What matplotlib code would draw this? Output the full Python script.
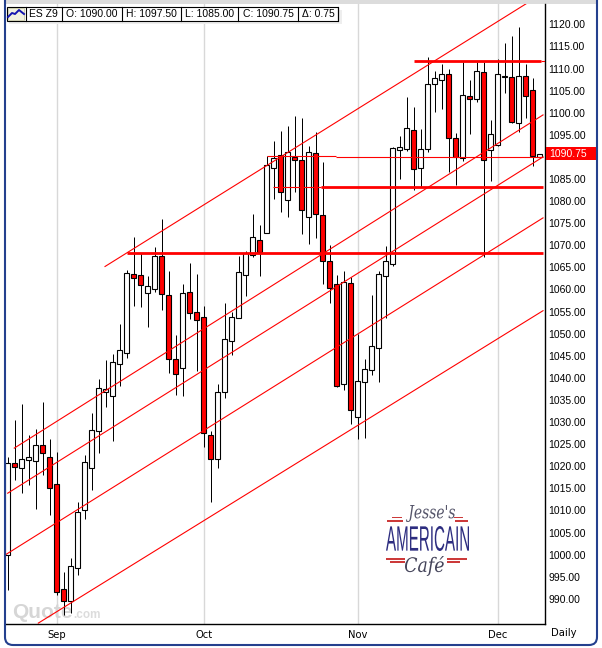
import matplotlib
matplotlib.use('Agg')
import matplotlib.pyplot as plt
from matplotlib.patches import Rectangle, FancyBboxPatch, PathPatch
from matplotlib.textpath import TextPath
from matplotlib.font_manager import FontProperties
from matplotlib.transforms import Affine2D

plt.rcParams['font.family'] = ['Liberation Sans', 'DejaVu Sans']

# daily bars
opens = [999.9, 1020.7, 1019.6, 1021.4, 1021.1, 1024.7, 1022.0, 1015.9, 992.2, 989.4,
         996.9, 1010.0, 1019.5, 1027.9, 1036.9, 1035.8, 1043.1, 1045.6, 1063.4, 1063.2,
         1059.1, 1060.0, 1067.5, 1058.7, 1044.2, 1042.2, 1059.4, 1054.8, 1053.7, 1027.0,
         1021.6, 1036.7, 1048.3, 1053.5, 1063.2, 1067.7, 1071.1, 1072.7, 1087.4, 1090.5,
         1080.2, 1089.9, 1089.2, 1076.5, 1090.8, 1076.8, 1066.4, 1061.2, 1038.5, 1061.4,
         1031.1, 1039.1, 1041.7, 1046.7, 1063.1, 1065.7, 1091.5, 1091.7, 1096.2, 1087.4,
         1091.9, 1106.4, 1107.5, 1108.7, 1094.2, 1089.7, 1103.7, 1103.2, 1109.1, 1091.5,
         1092.7, 1108.4, 1108.0, 1097.7, 1108.2, 1105.1, 1090.0]
highs = [1022.0, 1030.5, 1034.1, 1027.1, 1028.4, 1034.5, 1026.1, 1023.2, 996.0, 999.3,
         1012.0, 1022.5, 1032.0, 1039.7, 1044.0, 1045.4, 1052.2, 1064.3, 1071.9, 1068.2,
         1063.1, 1069.7, 1076.0, 1064.2, 1049.7, 1061.2, 1065.9, 1063.5, 1056.3, 1028.0,
         1038.6, 1057.0, 1055.0, 1067.6, 1068.6, 1077.1, 1074.6, 1090.1, 1093.6, 1095.9,
         1097.0, 1099.3, 1098.7, 1092.5, 1095.6, 1088.8, 1070.1, 1063.3, 1064.2, 1062.9,
         1049.9, 1044.3, 1058.8, 1064.2, 1069.8, 1092.3, 1094.7, 1103.5, 1101.2, 1096.3,
         1112.5, 1109.4, 1111.0, 1109.8, 1095.3, 1111.5, 1107.4, 1111.5, 1111.5, 1098.3,
         1112.1, 1115.8, 1117.3, 1119.5, 1111.0, 1107.8, 1090.75]
lows = [992.0, 1016.9, 1014.0, 1015.8, 1010.3, 1018.0, 1009.0, 990.9, 986.4, 986.9,
        995.4, 1008.1, 1014.6, 1023.1, 1033.5, 1025.6, 1038.2, 1044.6, 1056.3, 1056.1,
        1051.6, 1059.5, 1055.4, 1041.0, 1036.1, 1035.8, 1053.3, 1041.6, 1024.4, 1011.9,
        1019.5, 1035.5, 1045.2, 1053.5, 1058.6, 1067.3, 1063.1, 1072.7, 1080.5, 1077.6,
        1076.5, 1082.1, 1072.6, 1070.4, 1071.7, 1061.3, 1057.0, 1038.0, 1037.3, 1029.5,
        1026.1, 1026.5, 1040.6, 1039.1, 1053.5, 1065.2, 1085.1, 1091.4, 1082.5, 1083.3,
        1091.2, 1100.2, 1100.8, 1086.5, 1083.6, 1089.1, 1095.2, 1102.5, 1067.3, 1084.6,
        1092.5, 1104.5, 1097.7, 1095.6, 1098.9, 1088.0, 1090.0]
closes = [1020.7, 1019.8, 1021.6, 1022.2, 1024.7, 1022.9, 1015.0, 991.6, 989.4, 997.4,
          1009.6, 1020.9, 1028.1, 1037.6, 1037.4, 1043.7, 1046.2, 1063.7, 1062.7, 1060.9,
          1060.7, 1067.6, 1058.9, 1044.2, 1040.8, 1059.1, 1054.6, 1053.0, 1027.5, 1021.6,
          1036.7, 1048.7, 1053.7, 1063.9, 1068.2, 1071.8, 1068.5, 1088.2, 1089.8, 1082.0,
          1091.2, 1089.4, 1077.9, 1091.0, 1077.0, 1066.4, 1060.4, 1038.2, 1061.6, 1032.8,
          1039.2, 1041.9, 1047.1, 1063.4, 1066.4, 1092.0, 1092.2, 1096.5, 1087.2, 1091.7,
          1106.6, 1107.8, 1108.7, 1094.2, 1090.0, 1103.9, 1103.0, 1109.4, 1089.4, 1095.1,
          1108.7, 1108.0, 1098.0, 1108.2, 1103.7, 1090.2, 1090.75]

# channel lines: bar index and price at each end
channel_x = [(13.9, 74.2), (0.94, 76.47), (0.0, 76.47), (-0.39, 76.47), (4.37, 76.47)]
channel_y = [(1065.2, 1124.8), (1024.1, 1099.5), (1013.9, 1090.0), (999.9, 1076.2), (984.5, 1055.2)]

# support / resistance levels
thick_x = [(58.0, 76.2), (44.7, 76.5), (17.0, 76.5)]
thick_y = [1111.6, 1083.3, 1068.3]
thin_x = [(37.1, 46.9), (46.9, 76.5), (37.9, 44.7), (76.2, 76.7)]
thin_y = [1090.2, 1090.0, 1083.3, 1111.6]

# 1090 is hidden behind the last price flag in the original
price_ticks = [p for p in range(990, 1125, 5) if p != 1090]
month_pos = [7, 28, 50, 70]
month_names = ['Sep', 'Oct', 'Nov', 'Dec']
last_price = 1090.75

header_text = ['ES Z9', 'O: 1090.00', 'H: 1097.50', 'L: 1085.00', 'C: 1090.75', 'Δ: 0.75']
header_edges = [25.5, 61.5, 121.5, 180.5, 238, 298, 338]

W, H = 602, 648
fig = plt.figure(figsize=(W / 100, H / 100), dpi=100, facecolor='white')

# pixel overlay for the window frame, header and logo
bg = fig.add_axes([0, 0, 1, 1], zorder=0)
bg.set_xlim(0, W)
bg.set_ylim(H, 0)
bg.axis('off')
fr = fig.add_axes([0, 0, 1, 1], zorder=3)
fr.set_xlim(0, W)
fr.set_ylim(H, 0)
fr.axis('off')

bg.add_patch(Rectangle((4, 0), 593, 4, fc='#dcdcdc', ec='none'))

# price chart, left 5 px to right 544.5 px, top 4 px to bottom 624 px
ax = fig.add_axes([5 / W, 1 - 624 / H, 539.5 / W, 620 / H], zorder=1)
ax.patch.set_alpha(0)
ax.set_xlim(-0.386, 76.68)
ax.set_ylim(984.3, 1124.6)
for s in ['left', 'top']:
    ax.spines[s].set_visible(False)
for s in ['right', 'bottom']:
    ax.spines[s].set_linewidth(1.0)
ax.yaxis.tick_right()
ax.set_yticks(price_ticks)
ax.set_yticklabels([f'{p:.2f}' for p in price_ticks], fontsize=7.5, ha='left')
ax.set_xticks(month_pos)
ax.set_xticklabels(month_names, fontsize=7.2, fontfamily='DejaVu Sans')
ax.tick_params(axis='both', length=0)
ax.tick_params(axis='y', pad=3)
ax.tick_params(axis='x', pad=4)
for xp in month_pos:
    ax.axvline(xp, color='#d8d8d8', lw=1.0, zorder=1)

# watermark sits behind the bars
ax.text(0.013, 0.0097, 'Quote', transform=ax.transAxes, fontsize=15, fontweight='bold',
        color='#d6d6d6', va='baseline', ha='left', zorder=1.5)
ax.text(0.127, 0.0097, '.com', transform=ax.transAxes, fontsize=8.5, fontweight='bold',
        color='#dcdcdc', va='baseline', ha='left', zorder=1.5)

# bars
for i in range(len(opens)):
    ax.vlines(i, lows[i], highs[i], color='black', lw=0.72, zorder=3)
    low_body = min(opens[i], closes[i])
    height = abs(closes[i] - opens[i])
    face = 'white' if closes[i] >= opens[i] else '#ff0000'
    ax.add_patch(Rectangle((i - 0.33, low_body), 0.66, height, fc=face, ec='black',
                           lw=0.8, zorder=4))

# channel lines
for xs, ys in zip(channel_x, channel_y):
    ax.plot(xs, ys, color='#ff0000', lw=0.8, zorder=5)

# levels
for xs, y in zip(thick_x, thick_y):
    ax.plot(xs, [y, y], color='#ff0000', lw=2.0, zorder=5, solid_capstyle='butt')
for xs, y in zip(thin_x, thin_y):
    ax.plot(xs, [y, y], color='#ff0000', lw=0.8, zorder=5, solid_capstyle='butt')

# last price flag
fr.add_patch(Rectangle((546, 147), 50, 13, fc='#ff0000', ec='none'))
fr.text(549, 153.7, f'{last_price:.2f}', color='white', fontsize=7.5, va='center', ha='left')
fr.text(551, 633, 'Daily', fontsize=7.2, fontfamily='DejaVu Sans', va='center', ha='left')

# window frame
fr.add_patch(FancyBboxPatch((9, -30), 584, 671, boxstyle='round,pad=4,rounding_size=8',
                            fc='none', ec='#24408e', lw=1.5))

# header strip
fr.add_patch(Rectangle((9, 10), 333, 14, fc='#eeeeee', ec='none'))
fr.add_patch(Rectangle((6.5, 7), 331.5, 14, fc='white', ec='black', lw=0.8))
for xe in header_edges:
    fr.plot([xe, xe], [7, 21], color='black', lw=0.8)
for j, txt in enumerate(header_text):
    fr.text((header_edges[j] + header_edges[j + 1]) / 2, 14.2, txt, fontsize=7.5,
            ha='center', va='center')

# header icon
fr.add_patch(Rectangle((8, 8), 16, 12, fc='#f2f2e0', ec='#c8c8a8', lw=0.6))
fr.plot([8, 12, 15, 19, 24], [17, 13, 14, 10, 14], color='#1515b0', lw=1.4)


def squeezed(txt, x_left, x_right, y_base, y_height, prop, color):
    # text outline stretched to a box, the logo lettering is very condensed
    tp = TextPath((0, 0), txt, size=10, prop=prop)
    bb = tp.get_extents()
    tr = (Affine2D().translate(-bb.x0, -bb.y0)
          .scale((x_right - x_left) / bb.width, -y_height / bb.height)
          .translate(x_left, y_base))
    fr.add_patch(PathPatch(tp.transformed(tr), fc=color, ec='none', lw=0))


# Jesse's American Cafe logo
script = FontProperties(family='DejaVu Serif', style='italic')
block = FontProperties(family='Liberation Sans')
squeezed("Jesse's", 406, 455, 522, 17, script, '#55556a')
squeezed('AMERICAIN', 386, 469, 551, 25, block, '#2d2d80')
squeezed('Café', 405, 444, 576, 20, script, '#44445a')
for x0, x1, y0, h in [(392, 402, 517, 1), (387, 403, 520, 1.5), (454, 463, 517, 1), (455, 468, 520, 1.5),
                      (386, 405, 558, 1.5), (390, 405, 561, 1.5), (447, 467, 558, 1.5), (447, 460, 561, 1.5)]:
    fr.add_patch(Rectangle((x0, y0), x1 - x0, h, fc='#cc3a3a', ec='none'))

fig.savefig('out.png', dpi=100)
